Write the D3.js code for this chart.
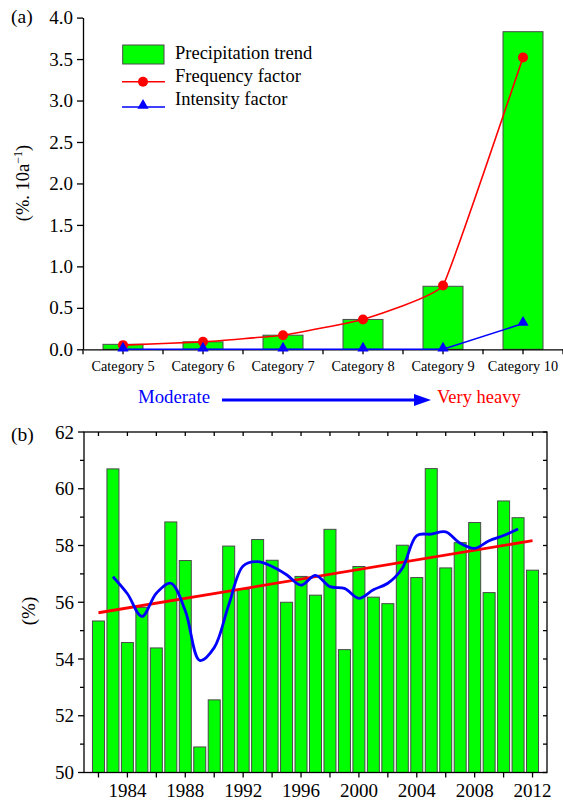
<!DOCTYPE html>
<html>
<head>
<meta charset="utf-8">
<script src="https://cdn.jsdelivr.net/npm/d3@7/dist/d3.min.js"></script>
<style>
  html, body { margin: 0; padding: 0; background: #fff; }
  svg { display: block; }
  text { font-family: "Liberation Serif", "Times New Roman", serif; fill: #000; }
</style>
</head>
<body>
<svg id="chart" width="563" height="800"></svg>
<script>
// ---------- Panel (a) data ----------
const categories = ["Category 5", "Category 6", "Category 7", "Category 8", "Category 9", "Category 10"];
const precipTrend = [0.06, 0.09, 0.17, 0.36, 0.76, 3.83];
const frequencyFactor = [0.05, 0.09, 0.17, 0.36, 0.77, 3.52];
const intensityFactor = [0, 0, 0, 0, 0, 0.31];
const yTicksA = [0, 0.5, 1.0, 1.5, 2.0, 2.5, 3.0, 3.5, 4.0];
const legendLabels = ["Precipitation trend", "Frequency factor", "Intensity factor"];

// ---------- Panel (b) data ----------
const years = [1982, 1983, 1984, 1985, 1986, 1987, 1988, 1989, 1990, 1991, 1992, 1993, 1994, 1995, 1996,
  1997, 1998, 1999, 2000, 2001, 2002, 2003, 2004, 2005, 2006, 2007, 2008, 2009, 2010, 2011, 2012];
const shareValues = [55.34, 60.70, 54.58, 55.82, 54.39, 58.83, 57.47, 50.90, 52.56, 57.98, 56.46, 58.21, 57.48, 56.00, 56.91,
  56.25, 58.57, 54.33, 57.26, 56.18, 55.95, 58.01, 56.87, 60.71, 57.21, 58.10, 58.81, 56.34, 59.57, 58.98, 57.13];
const trendYears = [1982, 2012];
const trendValues = [55.63, 58.17];
const smoothYears = [1983, 1984, 1985, 1986, 1987, 1988, 1989, 1990, 1991, 1992, 1993, 1994, 1995, 1996, 1997,
  1998, 1999, 2000, 2001, 2002, 2003, 2004, 2005, 2006, 2007, 2008, 2009, 2010, 2011];
const smoothValues = [56.90, 56.30, 55.50, 56.32, 56.67, 55.70, 53.95, 54.40, 55.90, 57.28, 57.43, 57.26, 56.97, 56.60, 56.95,
  56.55, 56.49, 56.14, 56.44, 56.67, 57.20, 58.35, 58.40, 58.48, 58.08, 57.90, 58.17, 58.35, 58.58];
const yTicksB = [50, 51, 52, 53, 54, 55, 56, 57, 58, 59, 60, 61, 62];
const xTicksB = [1982, 1984, 1986, 1988, 1990, 1992, 1994, 1996, 1998, 2000, 2002, 2004, 2006, 2008, 2010, 2012];
const xLabelsB = [1984, 1988, 1992, 1996, 2000, 2004, 2008, 2012];

const GREEN = "#00ff00", RED = "#ff0000", BLUE = "#0000ff";
const SERIF = "Liberation Serif, Times New Roman, serif";
const svg = d3.select("#chart");

// ================= Panel (a) =================
const gA = svg.append("g");
const xA = d3.scaleBand().domain(categories).range([83, 563]).paddingInner(0).paddingOuter(0);
const yA = d3.scaleLinear().domain([0, 4]).range([349.3, 17.6]);
const bw = xA.bandwidth();
const cx = c => xA(c) + bw / 2;

// bars
gA.selectAll("rect.bar").data(categories).join("rect")
  .attr("x", c => cx(c) - bw / 4)
  .attr("width", bw / 2)
  .attr("y", (c, i) => yA(precipTrend[i]))
  .attr("height", (c, i) => yA(0) - yA(precipTrend[i]))
  .attr("fill", GREEN).attr("stroke", "#4a4a4a").attr("stroke-width", 1);

// y axis
const axA = gA.append("g").attr("transform", "translate(83,0)")
  .call(d3.axisLeft(yA).tickValues(yTicksA).tickSize(6).tickSizeOuter(0).tickPadding(4).tickFormat(d3.format(".1f")));
axA.attr("font-family", SERIF);
axA.select(".domain").attr("stroke", "#000").attr("stroke-width", 1.3);
axA.selectAll(".tick line").attr("stroke", "#000").attr("stroke-width", 1.3);
axA.selectAll(".tick text").attr("font-size", 19).attr("font-family", SERIF);

// x axis
const axXA = gA.append("g").attr("transform", "translate(0,349.3)")
  .call(d3.axisBottom(xA).tickSize(5).tickSizeOuter(0).tickPadding(7));
axXA.attr("font-family", SERIF);
axXA.select(".domain").attr("stroke", "#000").attr("stroke-width", 1.3);
axXA.selectAll(".tick line").attr("stroke", "#000").attr("stroke-width", 1.3);
axXA.selectAll(".tick text").attr("font-size", 14.3).attr("font-family", SERIF);
// boundary ticks
const boundaries = categories.map(c => xA(c)).concat([xA(categories[categories.length - 1]) + bw]);
gA.selectAll("line.btick").data(boundaries).join("line")
  .attr("x1", d => d).attr("x2", d => d)
  .attr("y1", 349.3).attr("y2", 354.3)
  .attr("stroke", "#000").attr("stroke-width", 1.3);

// frequency line (smooth)
const lineFreq = d3.line().x((d, i) => cx(categories[i])).y(d => yA(d)).curve(d3.curveCardinal.tension(0.75));
gA.append("path").datum(frequencyFactor).attr("d", lineFreq)
  .attr("fill", "none").attr("stroke", RED).attr("stroke-width", 1.6);
gA.selectAll("circle.freq").data(frequencyFactor).join("circle")
  .attr("cx", (d, i) => cx(categories[i])).attr("cy", d => yA(d)).attr("r", 5).attr("fill", RED);

// intensity line
const lineInt = d3.line().x((d, i) => cx(categories[i])).y(d => yA(d));
gA.append("path").datum(intensityFactor).attr("d", lineInt)
  .attr("fill", "none").attr("stroke", BLUE).attr("stroke-width", 1.6);
const tri = d3.symbol().type(d3.symbolTriangle).size(55);
gA.selectAll("path.int").data(intensityFactor).join("path")
  .attr("d", tri)
  .attr("transform", (d, i) => `translate(${cx(categories[i])},${yA(d) - 1})`)
  .attr("fill", BLUE);

// legend
const lg = gA.append("g");
lg.append("rect").attr("x", 122.7).attr("y", 45).attr("width", 41.3).attr("height", 19)
  .attr("fill", GREEN).attr("stroke", "#4a4a4a").attr("stroke-width", 1);
lg.append("line").attr("x1", 122).attr("x2", 165).attr("y1", 81.7).attr("y2", 81.7).attr("stroke", RED).attr("stroke-width", 1.6);
lg.append("circle").attr("cx", 143).attr("cy", 81.7).attr("r", 5).attr("fill", RED);
lg.append("line").attr("x1", 122).attr("x2", 165).attr("y1", 107).attr("y2", 107).attr("stroke", BLUE).attr("stroke-width", 1.6);
lg.append("path").attr("d", tri).attr("transform", "translate(143,105.5)").attr("fill", BLUE);
lg.selectAll("text").data(legendLabels).join("text")
  .attr("x", 175).attr("y", (d, i) => 59.3 + i * 22.8)
  .attr("font-size", 18.5).text(d => d);

// panel label & y label
svg.append("text").attr("x", 11).attr("y", 23).attr("font-size", 19.5).text("(a)");
const ylA = svg.append("text").attr("transform", "translate(29,183) rotate(-90)")
  .attr("text-anchor", "middle").attr("font-size", 18.5);
ylA.append("tspan").text("(%. 10a");
ylA.append("tspan").attr("font-size", 12).attr("dy", -7).text("\u22121");
ylA.append("tspan").attr("dy", 7).text(")");

// Moderate -> Very heavy annotation
svg.append("text").attr("x", 138).attr("y", 403).attr("font-size", 18.8).style("fill", BLUE).text("Moderate");
svg.append("line").attr("x1", 222).attr("x2", 418).attr("y1", 400).attr("y2", 400).attr("stroke", BLUE).attr("stroke-width", 3.2);
svg.append("path").attr("d", "M414,394 L431,400 L414,406 Z").attr("fill", BLUE);
svg.append("text").attr("x", 437).attr("y", 403).attr("font-size", 18.5).style("fill", RED).text("Very heavy");

// ================= Panel (b) =================
const gB = svg.append("g");
const xB = d3.scaleLinear().domain([1981, 2013]).range([84, 547]);
const yB = d3.scaleLinear().domain([50, 62]).range([772.5, 432]);

gB.selectAll("rect.bar").data(years).join("rect")
  .attr("x", d => xB(d) - 6)
  .attr("width", 12)
  .attr("y", (d, i) => yB(shareValues[i]))
  .attr("height", (d, i) => yB(50) - yB(shareValues[i]))
  .attr("fill", GREEN).attr("stroke", "#4a4a4a").attr("stroke-width", 1);

const lineTrend = d3.line().x((d, i) => xB(trendYears[i])).y(d => yB(d));
gB.append("path").datum(trendValues).attr("d", lineTrend)
  .attr("fill", "none").attr("stroke", RED).attr("stroke-width", 2.8);

const lineSmooth = d3.line().x((d, i) => xB(smoothYears[i])).y(d => yB(d)).curve(d3.curveCatmullRom.alpha(0.5));
gB.append("path").datum(smoothValues).attr("d", lineSmooth)
  .attr("fill", "none").attr("stroke", BLUE).attr("stroke-width", 2.8);

// frame
gB.append("rect").attr("x", xB(1981)).attr("y", yB(62)).attr("width", xB(2013) - xB(1981)).attr("height", yB(50) - yB(62))
  .attr("fill", "none").attr("stroke", "#000").attr("stroke-width", 1.3);

// bottom ticks (outward) + labels
gB.selectAll("line.bt").data(xTicksB).join("line")
  .attr("x1", d => xB(d)).attr("x2", d => xB(d)).attr("y1", yB(50)).attr("y2", yB(50) + 5)
  .attr("stroke", "#000").attr("stroke-width", 1.3);
gB.selectAll("text.bl").data(xLabelsB).join("text")
  .attr("x", d => xB(d)).attr("y", 797).attr("text-anchor", "middle").attr("font-size", 19).text(d => d);
// top ticks (inward)
gB.selectAll("line.tt").data(xTicksB).join("line")
  .attr("x1", d => xB(d)).attr("x2", d => xB(d)).attr("y1", yB(62)).attr("y2", yB(62) + 4)
  .attr("stroke", "#000").attr("stroke-width", 1.3);
// left ticks (outward)
gB.selectAll("line.lt").data(yTicksB).join("line")
  .attr("x1", d => xB(1981) - (d % 2 === 0 ? 6 : 4)).attr("x2", xB(1981))
  .attr("y1", d => yB(d)).attr("y2", d => yB(d))
  .attr("stroke", "#000").attr("stroke-width", 1.3);
gB.selectAll("text.ll").data(yTicksB.filter(d => d % 2 === 0)).join("text")
  .attr("x", 74).attr("y", d => yB(d) + 6.5).attr("text-anchor", "end").attr("font-size", 19).text(d => d);
// right ticks (inward)
gB.selectAll("line.rt").data(yTicksB).join("line")
  .attr("x1", xB(2013) - 4).attr("x2", xB(2013))
  .attr("y1", d => yB(d)).attr("y2", d => yB(d))
  .attr("stroke", "#000").attr("stroke-width", 1.3);

svg.append("text").attr("x", 11).attr("y", 441).attr("font-size", 19.5).text("(b)");
svg.append("text").attr("transform", "translate(35,611) rotate(-90)")
  .attr("text-anchor", "middle").attr("font-size", 19).text("(%)");
</script>
</body>
</html>
